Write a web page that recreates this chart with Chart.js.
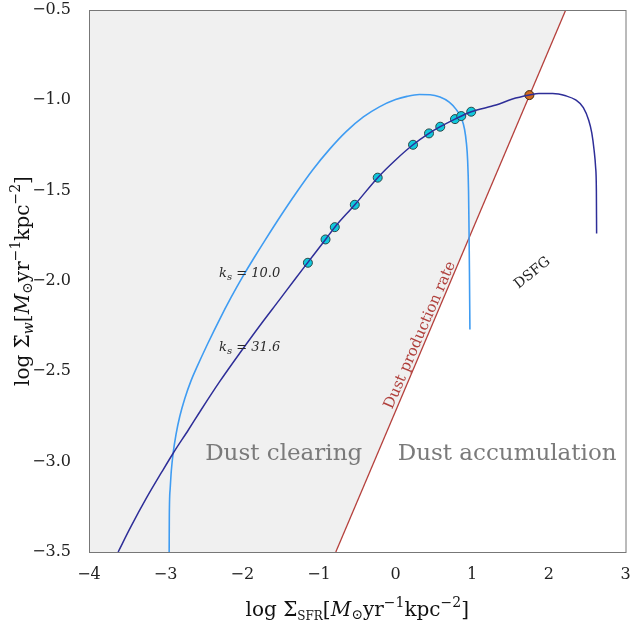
<!DOCTYPE html>
<html>
<head>
<meta charset="utf-8">
<script src="https://cdn.jsdelivr.net/npm/chart.js@4/dist/chart.umd.min.js"></script>
<style>
  html, body { margin: 0; padding: 0; background: #fff; }
  #wrap { width: 631px; height: 631px; }
</style>
</head>
<body>
<div id="wrap"><canvas id="chart" width="631" height="631"></canvas></div>
<script>
// Axis ticks
const xTicks = [-4, -3, -2, -1, 0, 1, 2, 3];
const yTicks = [-3.5, -3.0, -2.5, -2.0, -1.5, -1.0, -0.5];

// k_s = 10.0 curve (light blue)
const ks10X = [-2.954, -2.952, -2.941, -2.926, -2.90, -2.865, -2.816, -2.75, -2.667, -2.60, -2.45, -2.30, -2.15, -2.0, -1.85, -1.7, -1.5, -1.3, -1.08, -0.86, -0.645, -0.42, -0.211, 0.0, 0.15, 0.31, 0.45, 0.58, 0.70, 0.79, 0.86, 0.90, 0.925, 0.94, 0.952, 0.958, 0.964, 0.970];
const ks10Y = [-3.5, -3.3, -3.15, -3.05, -2.946, -2.85, -2.75, -2.65, -2.55, -2.484, -2.346, -2.216, -2.094, -1.98, -1.874, -1.772, -1.64, -1.514, -1.384, -1.27, -1.173, -1.092, -1.036, -0.996, -0.978, -0.968, -0.969, -0.982, -1.01, -1.05, -1.10, -1.16, -1.24, -1.33, -1.50, -1.70, -1.95, -2.268];

// k_s = 31.6 curve (dark blue)
const ks316X = [-3.62, -3.45, -3.25, -3.05, -2.90, -2.70, -2.555, -2.30, -2.034, -1.75, -1.513, -1.30, -1.144, -0.914, -0.793, -0.532, -0.233, 0.0, 0.228, 0.436, 0.583, 0.775, 0.987, 1.31, 1.525, 1.746, 1.87, 2.05, 2.22, 2.35, 2.45, 2.52, 2.56, 2.59, 2.61, 2.62, 2.623];
const ks316Y = [-3.5, -3.357, -3.201, -3.057, -2.952, -2.822, -2.725, -2.56, -2.40, -2.235, -2.103, -1.983, -1.897, -1.770, -1.702, -1.578, -1.428, -1.33, -1.246, -1.183, -1.146, -1.104, -1.063, -1.026, -0.993, -0.971, -0.962, -0.962, -0.975, -0.998, -1.04, -1.11, -1.18, -1.275, -1.37, -1.50, -1.737];

// observed points on the k_s = 31.6 track
const dotsX = [-1.144, -0.914, -0.793, -0.532, -0.233, 0.228, 0.436, 0.583, 0.775, 0.857, 0.987];
const dotsY = [-1.899, -1.770, -1.702, -1.578, -1.428, -1.246, -1.183, -1.146, -1.104, -1.087, -1.063];

// DSFG point
const dsfgX = [1.746];
const dsfgY = [-0.971];

// dust production rate line
const dustLineX = [-0.78, 2.22];
const dustLineY = [-3.5, -0.5];

const zip = (xs, ys) => xs.map((x, i) => ({ x: x, y: ys[i] }));

const SERIF = "'DejaVu Serif', 'Liberation Serif', serif";

// text labels inside the plot
const notes = [
    { x: -1.46, y: -2.958, text: "Dust clearing", size: 23, color: "#7a7a7a", angle: 0 },
    { x: 1.456, y: -2.958, text: "Dust accumulation", size: 23, color: "#7a7a7a", angle: 0 },
    { x: 0.32, y: -2.30, text: "Dust production rate", size: 15, color: "#b0403c", angle: 66.6 },
    { x: 1.785, y: -1.956, text: "DSFG", size: 14, color: "#222", angle: 39 }
];
const ksLabels = [
    { x: -1.904, y: -1.978, text: " = 10.0" },
    { x: -1.904, y: -2.388, text: " = 31.6" }
];

function drawRich(ctx, parts, cx, cy) {
    let w = 0;
    parts.forEach(p => { ctx.font = p.font; w += ctx.measureText(p.t).width; });
    let x = cx - w / 2;
    ctx.textBaseline = "alphabetic";
    ctx.textAlign = "left";
    parts.forEach(p => {
        ctx.font = p.font;
        ctx.fillText(p.t, x, cy + (p.dy || 0));
        x += ctx.measureText(p.t).width;
    });
}

const big = "20px " + SERIF, bigIt = "italic 20px " + SERIF, small = "14px " + SERIF;
const unitParts = [
    { t: "[", font: big }, { t: "M", font: bigIt }, { t: "\u2299", font: "14px " + SERIF, dy: 3 },
    { t: "yr", font: big }, { t: "\u22121", font: small, dy: -9 },
    { t: "kpc", font: big }, { t: "\u22122", font: small, dy: -9 }, { t: "]", font: big }
];
const xTitle = [{ t: "log \u03A3", font: big }, { t: "SFR", font: "12px " + SERIF, dy: 4 }].concat(unitParts);
const yTitle = [{ t: "log \u03A3\u0307", font: big }, { t: "w", font: "italic 14px " + SERIF, dy: 4 }].concat(unitParts);

const decor = {
    id: "decor",
    afterDatasetsDraw(chart) {
        const ctx = chart.ctx, a = chart.chartArea;
        const xs = chart.scales.x, ys = chart.scales.y;
        ctx.save();
        ctx.strokeStyle = "#777";
        ctx.lineWidth = 1;
        ctx.strokeRect(a.left + 0.5, a.top + 0.5, a.right - a.left, a.bottom - a.top);

        notes.forEach(n => {
            ctx.save();
            ctx.translate(xs.getPixelForValue(n.x), ys.getPixelForValue(n.y));
            ctx.rotate(-n.angle * Math.PI / 180);
            ctx.font = n.size + "px " + SERIF;
            ctx.fillStyle = n.color;
            ctx.textAlign = "center";
            ctx.textBaseline = "middle";
            ctx.fillText(n.text, 0, 0);
            ctx.restore();
        });

        // k_s labels
        ctx.fillStyle = "#2a2a2a";
        ksLabels.forEach(k => {
            drawRich(ctx, [
                { t: "k", font: "italic 13px " + SERIF },
                { t: "s", font: "italic 10px " + SERIF, dy: 3 },
                { t: k.text, font: "italic 13px " + SERIF }
            ], xs.getPixelForValue(k.x), ys.getPixelForValue(k.y));
        });

        // axis titles
        ctx.fillStyle = "#111";
        drawRich(ctx, xTitle, (a.left + a.right) / 2, 616);
        ctx.save();
        ctx.translate(29, (a.top + a.bottom) / 2);
        ctx.rotate(-Math.PI / 2);
        drawRich(ctx, yTitle, 0, 0);
        ctx.restore();
        ctx.restore();
    }
};

new Chart(document.getElementById("chart"), {
    type: "scatter",
    data: {
        datasets: [
            {
                label: "clearing region",
                data: [{ x: xTicks[0], y: dustLineY[0] }].concat(zip(dustLineX, dustLineY)),
                showLine: true,
                fill: "end",
                backgroundColor: "#f0f0f0",
                borderWidth: 0,
                pointRadius: 0,
                order: 10
            },
            {
                label: "Dust production rate",
                data: zip(dustLineX, dustLineY),
                showLine: true,
                borderColor: "#b5403c",
                borderWidth: 1.3,
                pointRadius: 0,
                order: 5
            },
            {
                label: "ks=10.0",
                data: zip(ks10X, ks10Y),
                showLine: true,
                borderColor: "#3f9cf2",
                borderWidth: 1.6,
                cubicInterpolationMode: "monotone",
                pointRadius: 0,
                order: 4
            },
            {
                label: "points",
                data: zip(dotsX, dotsY),
                pointRadius: 4.5,
                pointBackgroundColor: "#10c8dc",
                pointBorderColor: "#2a4848",
                pointBorderWidth: 1,
                order: 3
            },
            {
                label: "DSFG",
                data: zip(dsfgX, dsfgY),
                pointRadius: 4.5,
                pointBackgroundColor: "#d2691e",
                pointBorderColor: "#3a2a10",
                pointBorderWidth: 1,
                order: 3
            },
            {
                label: "ks=31.6",
                data: zip(ks316X, ks316Y),
                showLine: true,
                borderColor: "#2e2e98",
                borderWidth: 1.5,
                cubicInterpolationMode: "monotone",
                pointRadius: 0,
                order: 1
            }
        ]
    },
    options: {
        responsive: false,
        animation: false,
        layout: { padding: { top: 10, right: 5, left: 0, bottom: 0 } },
        plugins: { legend: { display: false }, tooltip: { enabled: false } },
        scales: {
            x: {
                type: "linear",
                min: -4,
                max: 3,
                afterBuildTicks: s => { s.ticks = xTicks.map(v => ({ value: v })); },
                afterFit: s => { s.height = 79; s.paddingLeft = 0; s.paddingRight = 0; },
                grid: { display: false, drawTicks: true, tickLength: 8, tickColor: "#444", drawOnChartArea: false },
                border: { display: false },
                ticks: { color: "#222", font: { family: SERIF, size: 16 }, padding: 5,
                         callback: v => (v < 0 ? "\u2212" : "") + Math.abs(v) }
            },
            y: {
                type: "linear",
                min: -3.5,
                max: -0.5,
                afterBuildTicks: s => { s.ticks = yTicks.map(v => ({ value: v })); },
                afterFit: s => { s.width = 89; s.paddingTop = 0; s.paddingBottom = 0; },
                grid: { display: false, drawTicks: true, tickLength: 8, tickColor: "#444", drawOnChartArea: false },
                border: { display: false },
                ticks: { color: "#222", font: { family: SERIF, size: 16 }, padding: 10,
                         callback: v => (v < 0 ? "\u2212" : "") + Math.abs(v).toFixed(1) }
            }
        }
    },
    plugins: [decor]
});
</script>
</body>
</html>
